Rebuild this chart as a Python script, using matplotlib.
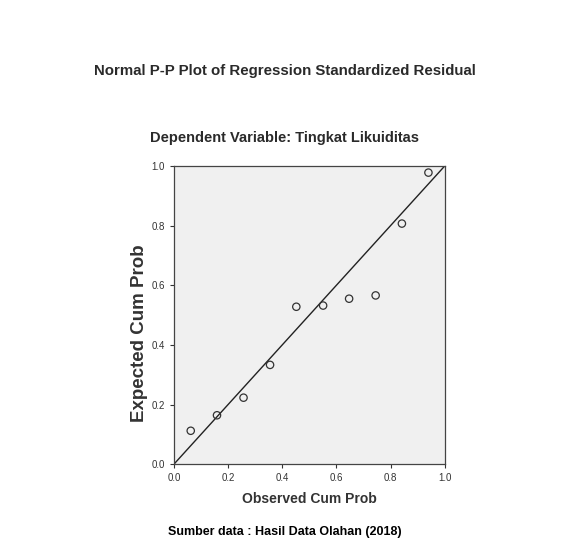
import matplotlib.pyplot as plt

# observed vs expected cumulative probability
observed = [0.062, 0.159, 0.257, 0.355, 0.452, 0.551, 0.647, 0.745, 0.842, 0.940]
expected = [0.112, 0.164, 0.223, 0.333, 0.528, 0.532, 0.555, 0.566, 0.807, 0.978]
ticks = [0.0, 0.2, 0.4, 0.6, 0.8, 1.0]

plt.rcParams['font.family'] = ['Liberation Sans', 'DejaVu Sans']

fig = plt.figure(figsize=(5.76, 5.48), dpi=100)
ax = fig.add_axes([0.302, 0.153, 0.470, 0.544])
ax.set_facecolor('#f0f0f0')

ax.plot([0, 1], [0, 1], color='#222222', linewidth=1.0)
ax.scatter(observed, expected, s=28, facecolors='none', edgecolors='#333333', linewidths=0.9, zorder=3)

ax.set_xlim(0, 1)
ax.set_ylim(0, 1)
ax.set_xticks(ticks)
ax.set_yticks(ticks)
ax.set_xticklabels(['%.1f' % t for t in ticks])
ax.set_yticklabels(['%.1f' % t for t in ticks])
ax.tick_params(labelsize=7, colors='#333333', length=3, width=0.8)
for s in ax.spines.values():
    s.set_color('#444444')
    s.set_linewidth(0.9)

ax.set_xlabel('Observed Cum Prob', fontsize=10, fontweight='bold', color='#333333', labelpad=6)
ax.set_ylabel('Expected Cum Prob', fontsize=13.5, fontweight='bold', color='#333333')
ax.yaxis.set_label_coords(-0.096, 0.44)

fig.text(0.495, 0.87, 'Normal P-P Plot of Regression Standardized Residual', ha='center', va='center',
         fontsize=10.8, fontweight='bold', color='#2a2a2a')
fig.text(0.494, 0.748, 'Dependent Variable: Tingkat Likuiditas', ha='center', va='center',
         fontsize=10.5, fontweight='bold', color='#2a2a2a')
fig.text(0.495, 0.029, 'Sumber data : Hasil Data Olahan (2018)', ha='center', va='center',
         fontsize=9, fontweight='bold', color='black')

plt.savefig('out.png', dpi=100)
